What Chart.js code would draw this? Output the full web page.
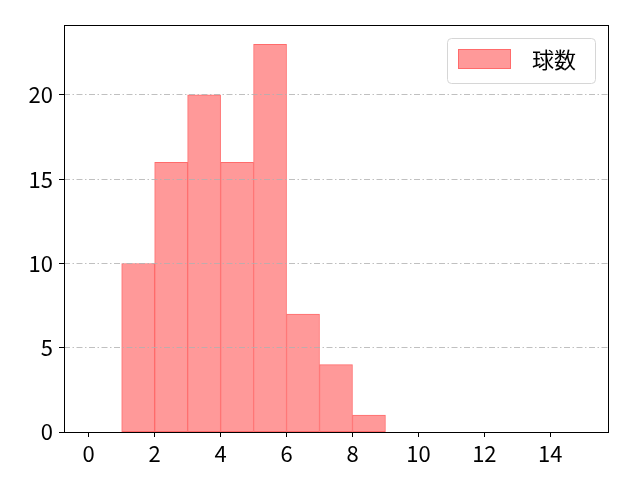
<!DOCTYPE html>
<html>
<head>
<meta charset="utf-8">
<script src="https://cdn.jsdelivr.net/npm/chart.js@4"></script>
<style>
  html, body { margin: 0; padding: 0; background: #fff; }
  #wrap { width: 640px; height: 480px; }
</style>
</head>
<body>
<div id="wrap"><canvas id="hist"></canvas></div>
<script>
const BIN_EDGES = [0, 1, 2, 3, 4, 5, 6, 7, 8, 9, 10, 11, 12, 13, 14, 15];
const COUNTS = [0, 10, 16, 20, 16, 23, 7, 4, 1, 0, 0, 0, 0, 0, 0];
const X_TICKS = [0, 2, 4, 6, 8, 10, 12, 14];
const Y_TICKS = [0, 5, 10, 15, 20];
const SERIES_LABEL = '球数';

const FONT = '"Noto Sans CJK JP", "Noto Sans", sans-serif';
const FILL = '#ff9999';
const EDGE = '#ff6b6b';

function histPoints() {
    let pts = [];
    for (let i = 0; i < COUNTS.length; i++) {
        pts.push({x: (BIN_EDGES[i] + BIN_EDGES[i + 1]) / 2, y: COUNTS[i]});
    }
    return pts;
}

const framePlugin = {
    id: 'frame',
    afterDraw(chart) {
        const a = chart.chartArea;
        const ctx = chart.ctx;
        ctx.save();
        ctx.strokeStyle = '#000';
        ctx.lineWidth = 1;
        ctx.strokeRect(a.left + 0.5, a.top + 0.5, a.right - a.left, a.bottom - a.top);
        ctx.restore();
    }
};

const legendBoxPlugin = {
    id: 'legendBox',
    afterDraw(chart) {
        const a = chart.chartArea;
        const ctx = chart.ctx;
        const w = 148, h = 45;
        const x = a.right - 13 - w, y = a.top + 13;
        ctx.save();
        ctx.beginPath();
        ctx.roundRect(x + 0.5, y + 0.5, w, h, 4);
        ctx.fillStyle = 'rgba(255,255,255,0.8)';
        ctx.fill();
        ctx.strokeStyle = '#d6d6d6';
        ctx.lineWidth = 1;
        ctx.stroke();
        ctx.fillStyle = FILL;
        ctx.fillRect(x + 11, y + 11, 53, 20);
        ctx.strokeStyle = EDGE;
        ctx.strokeRect(x + 11.5, y + 11.5, 52, 19);
        ctx.fillStyle = '#000';
        ctx.font = '22px ' + FONT;
        ctx.textBaseline = 'middle';
        ctx.fillText(SERIES_LABEL, x + 85, y + 22);
        ctx.restore();
    }
};

new Chart(document.getElementById('hist'), {
    type: 'bar',
    data: {
        datasets: [{
            label: SERIES_LABEL,
            data: histPoints(),
            backgroundColor: FILL,
            borderColor: EDGE,
            borderWidth: 1,
            borderSkipped: false,
            barPercentage: 1,
            categoryPercentage: 1
        }]
    },
    options: {
        responsive: true,
        maintainAspectRatio: false,
        animation: false,
        events: [],
        layout: {padding: {left: 0, right: 32, top: 25, bottom: 0}},
        plugins: {
            legend: {display: false},
            tooltip: {enabled: false}
        },
        scales: {
            x: {
                type: 'linear',
                min: -0.75,
                max: 15.75,
                offset: false,
                afterBuildTicks: s => { s.ticks = X_TICKS.map(v => ({value: v})); },
                afterFit: s => { s.height = 48; },
                grid: {offset: false, drawOnChartArea: false, drawTicks: true, tickLength: 5, tickColor: '#000'},
                border: {display: false},
                ticks: {color: '#000', padding: 3, maxRotation: 0, font: {family: FONT, size: 22}}
            },
            y: {
                min: 0,
                max: 24.15,
                afterBuildTicks: s => { s.ticks = Y_TICKS.map(v => ({value: v})); },
                afterFit: s => { s.width = 64; },
                grid: {color: '#b0b0b0', lineWidth: 0.8, z: 1, drawTicks: true, tickLength: 5, tickColor: '#000', tickWidth: 1},
                border: {display: false, dash: [6, 2.5, 1.5, 2.5]},
                ticks: {color: '#000', padding: 6, font: {family: FONT, size: 22}}
            }
        }
    },
    plugins: [framePlugin, legendBoxPlugin]
});
</script>
</body>
</html>
